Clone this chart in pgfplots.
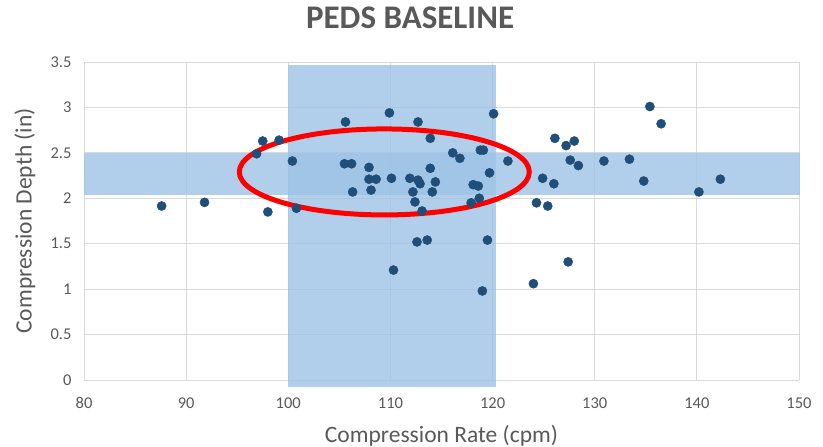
\documentclass[border=0pt]{standalone}
\usepackage{pgfplots}
\pgfplotsset{compat=1.18}
\usepackage{fontspec}
\setmainfont{Carlito}
\definecolor{txt}{HTML}{595959}
\definecolor{dot}{HTML}{1F4E79}
\definecolor{band}{HTML}{9DC3E6}
\definecolor{gridc}{HTML}{D9D9D9}
\begin{document}
\begin{tikzpicture}
\path[use as bounding box] (0,0) rectangle (823bp,447bp);
\begin{axis}[
  at={(84bp,67bp)}, anchor=south west,
  width=715bp, height=318bp, scale only axis,
  xmin=80, xmax=150, ymin=0, ymax=3.5,
  xtick={80,90,...,150}, ytick={0,0.5,...,3.5},
  grid=major, major grid style={gridc, line width=0.9pt},
  axis line style={draw=none}, tick style={draw=none},
  clip=false,
  /pgf/number format/assume math mode=true,
  yticklabel style={/pgf/number format/fixed, /pgf/number format/precision=1, font=\fontsize{16.5bp}{18bp}\selectfont, text=txt, anchor=east, xshift=-9bp},
  xticklabel style={font=\fontsize{16.5bp}{18bp}\selectfont, text=txt, anchor=center, yshift=-23bp},
  xlabel={Compression Rate (cpm)}, ylabel={Compression Depth (in)},
  label style={font=\fontsize{23.5bp}{25bp}\selectfont, text=txt},
  xlabel style={at={(axis description cs:0.5,-0.195)}, anchor=base},
  ylabel style={at={(axis description cs:-0.0825,0.5)}, anchor=center},
  title={PEDS BASELINE},
  title style={font=\fontsize{33bp}{35bp}\selectfont\bfseries, text=txt, at={(axis description cs:0.456,1)}, anchor=base, yshift=28bp},
]
\addplot[only marks, mark=*, mark size=4.6bp, mark options={fill=dot, draw=dot}] coordinates {
(87.6,1.915) (91.8,1.955) (97.5,2.63) (99.1,2.64) (96.9,2.49) (100.4,2.41) (98.0,1.85) (100.8,1.89)
(109.9,2.94) (105.6,2.84) (112.7,2.84) (120.1,2.93) (113.9,2.66) (116.1,2.50) (116.8,2.44)
(118.8,2.53) (119.1,2.53) (121.5,2.41) (105.5,2.38) (106.2,2.38) (107.9,2.34) (113.9,2.33)
(119.7,2.28) (107.9,2.21) (108.6,2.21) (110.1,2.22) (111.9,2.22) (112.7,2.20) (112.9,2.16)
(114.4,2.18) (118.1,2.15) (118.6,2.135) (106.3,2.07) (108.1,2.09) (112.2,2.07) (114.1,2.07)
(112.4,1.96) (113.1,1.86) (117.9,1.95) (118.7,2.00) (124.3,1.95) (125.4,1.915) (112.6,1.52)
(113.6,1.54) (119.5,1.54) (124.9,2.22) (110.3,1.21) (119.0,0.98) (124.0,1.06) (127.4,1.30)
(135.4,3.01) (136.5,2.82) (126.1,2.66) (128.0,2.63) (127.2,2.58) (127.6,2.42) (128.4,2.36)
(130.9,2.41) (133.4,2.43) (126.0,2.16) (134.8,2.19) (142.3,2.21) (140.2,2.07)
};
\fill[band, opacity=0.8] (axis cs:100,-0.08) rectangle (axis cs:120.3,3.47);
\fill[band, opacity=0.8] (axis cs:80,2.04) rectangle (axis cs:150.1,2.5);
\draw[red, line width=5bp] (axis cs:109.4,2.29) ellipse [x radius=145bp, y radius=43bp];
\end{axis}
\end{tikzpicture}
\end{document}
